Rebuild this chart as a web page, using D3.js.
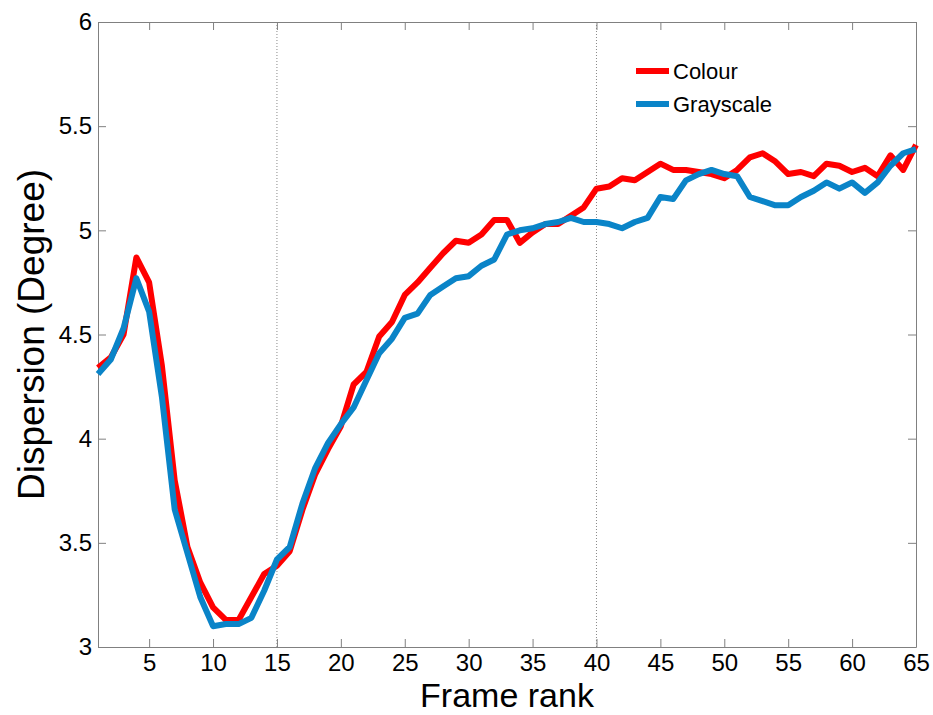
<!DOCTYPE html>
<html>
<head>
<meta charset="utf-8">
<script src="https://cdn.jsdelivr.net/npm/d3@7"></script>
<style>
  body { margin: 0; background: #fff; }
  svg { font-family: "Liberation Sans", Arial, sans-serif; }
</style>
</head>
<body>
<svg id="chart" width="933" height="715"></svg>
<script>
// frame rank 1..65
const ranks = d3.range(1, 66)
const colourVals = [4.34, 4.39, 4.50, 4.87, 4.75, 4.35, 3.80, 3.48, 3.31, 3.19,
  3.13, 3.13, 3.24, 3.35, 3.39, 3.46, 3.66, 3.83, 3.95, 4.06,
  4.26, 4.32, 4.49, 4.56, 4.69, 4.75, 4.82, 4.89, 4.95, 4.94,
  4.98, 5.05, 5.05, 4.94, 4.99, 5.03, 5.03, 5.07, 5.11, 5.20,
  5.21, 5.25, 5.24, 5.28, 5.32, 5.29, 5.29, 5.28, 5.27, 5.25,
  5.29, 5.35, 5.37, 5.33, 5.27, 5.28, 5.26, 5.32, 5.31, 5.28,
  5.30, 5.26, 5.36, 5.29, 5.41]
const grayVals = [4.31, 4.38, 4.53, 4.77, 4.61, 4.20, 3.66, 3.45, 3.24, 3.10,
  3.11, 3.11, 3.14, 3.27, 3.42, 3.48, 3.69, 3.86, 3.98, 4.07,
  4.15, 4.28, 4.41, 4.48, 4.58, 4.60, 4.69, 4.73, 4.77, 4.78,
  4.83, 4.86, 4.98, 5.00, 5.01, 5.03, 5.04, 5.06, 5.04, 5.04,
  5.03, 5.01, 5.04, 5.06, 5.16, 5.15, 5.24, 5.27, 5.29, 5.27,
  5.26, 5.16, 5.14, 5.12, 5.12, 5.16, 5.19, 5.23, 5.20, 5.23,
  5.18, 5.23, 5.31, 5.37, 5.39]
const xTicks = [5, 10, 15, 20, 25, 30, 35, 40, 45, 50, 55, 60, 65]
const yTicks = [3, 3.5, 4, 4.5, 5, 5.5, 6]
const markers = [15, 40]

const seriesList = [
  {name: 'Colour', values: colourVals, color: '#ff0000'},
  {name: 'Grayscale', values: grayVals, color: '#0a84c8'}
]

let dimensions = {
  left: 98, right: 916, top: 22, bottom: 647
}

let svg = d3.select('#chart')

let xScale = d3.scaleLinear()
  .domain([1, 65])
  .range([dimensions.left, dimensions.right])

let yScale = d3.scaleLinear()
  .domain([3, 6])
  .range([dimensions.bottom, dimensions.top])

// dotted markers
svg.selectAll('.marker')
  .data(markers)
  .enter()
  .append('line')
  .attr('x1', d => xScale(d))
  .attr('x2', d => xScale(d))
  .attr('y1', dimensions.top)
  .attr('y2', dimensions.bottom)
  .attr('stroke', '#888')
  .attr('stroke-width', 1)
  .attr('stroke-dasharray', '1,2')

let axisColor = '#808080'
let fmt = d => String(d)

// bottom axis
let xAxis = svg.append('g')
  .attr('transform', `translate(0,${dimensions.bottom})`)
  .call(d3.axisBottom(xScale).tickValues(xTicks).tickSizeInner(-8).tickSizeOuter(0).tickPadding(7).tickFormat(fmt))
xAxis.select('.domain').attr('stroke', axisColor)
xAxis.selectAll('.tick line').attr('stroke', axisColor)
xAxis.selectAll('text').attr('fill', '#000').style('font-size', '24px')

// top axis (ticks only)
let xTop = svg.append('g')
  .attr('transform', `translate(0,${dimensions.top})`)
  .call(d3.axisTop(xScale).tickValues(xTicks).tickSizeInner(-8).tickSizeOuter(0).tickFormat(''))
xTop.select('.domain').attr('stroke', axisColor)
xTop.selectAll('.tick line').attr('stroke', axisColor)

// left axis
let yAxis = svg.append('g')
  .attr('transform', `translate(${dimensions.left},0)`)
  .call(d3.axisLeft(yScale).tickValues(yTicks).tickSizeInner(-8).tickSizeOuter(0).tickPadding(6).tickFormat(fmt))
yAxis.select('.domain').attr('stroke', axisColor)
yAxis.selectAll('.tick line').attr('stroke', axisColor)
yAxis.selectAll('text').attr('fill', '#000').style('font-size', '24px')

// right axis (ticks only)
let yRight = svg.append('g')
  .attr('transform', `translate(${dimensions.right},0)`)
  .call(d3.axisRight(yScale).tickValues(yTicks).tickSizeInner(-8).tickSizeOuter(0).tickFormat(''))
yRight.select('.domain').attr('stroke', axisColor)
yRight.selectAll('.tick line').attr('stroke', axisColor)

// lines
let lineGen = vals => d3.line()
  .x((d, i) => xScale(ranks[i]))
  .y(d => yScale(d))(vals)

svg.selectAll('.series')
  .data(seriesList)
  .enter()
  .append('path')
  .attr('d', d => lineGen(d.values))
  .attr('fill', 'none')
  .attr('stroke', d => d.color)
  .attr('stroke-width', 6)
  .attr('stroke-linejoin', 'round')

// legend
let legend = svg.append('g')
seriesList.forEach((s, i) => {
  let y = 71 + i * 33
  legend.append('line')
    .attr('x1', 636).attr('x2', 669)
    .attr('y1', y).attr('y2', y)
    .attr('stroke', s.color)
    .attr('stroke-width', 6)
  legend.append('text')
    .attr('x', 673)
    .attr('y', y + 8)
    .style('font-size', '22px')
    .attr('fill', '#000')
    .text(s.name)
})

// axis titles
svg.append('text')
  .attr('x', (dimensions.left + dimensions.right) / 2)
  .attr('y', 707)
  .attr('text-anchor', 'middle')
  .style('font-size', '34px')
  .text('Frame rank')

svg.append('text')
  .attr('transform', `translate(44,${(dimensions.top + dimensions.bottom) / 2}) rotate(-90)`)
  .attr('text-anchor', 'middle')
  .style('font-size', '37px')
  .text('Dispersion (Degree)')
</script>
</body>
</html>
